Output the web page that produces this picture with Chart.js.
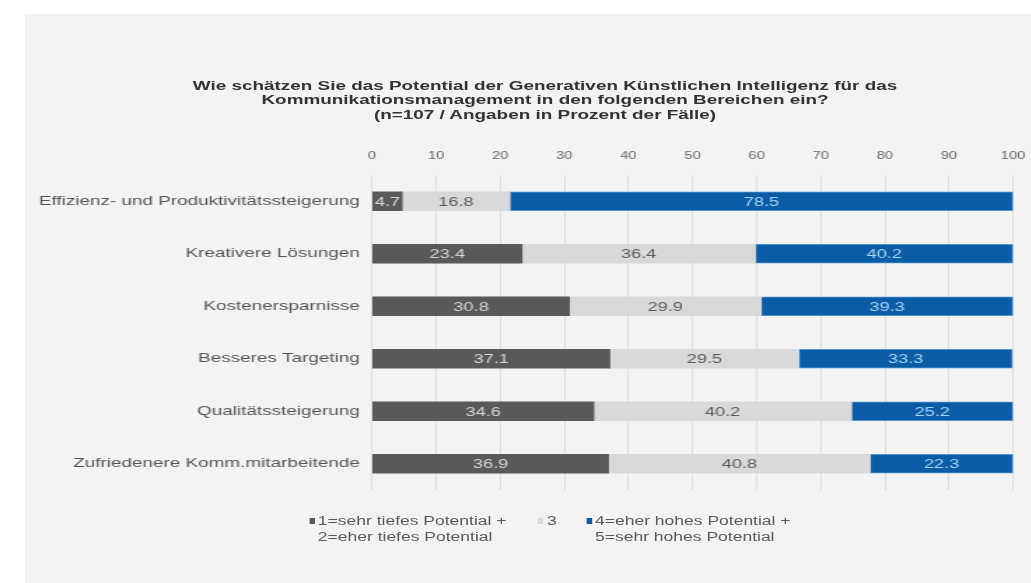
<!DOCTYPE html>
<html>
<head>
<meta charset="utf-8">
<script src="https://cdn.jsdelivr.net/npm/chart.js@4/dist/chart.umd.min.js"></script>
<style>
    body { margin: 0; background: #ffffff; font-family: "Liberation Sans", Arial, sans-serif; overflow: hidden; }
    #panel { position: absolute; left: 25px; top: 14px; right: 0; bottom: 0; background: #f3f3f3; }
    /* the original graphic is stretched horizontally */
    #stretch { position: absolute; left: 0; top: 0; width: 736px; height: 583px; transform: scaleX(1.4); transform-origin: 0 0; }
    #wrap { position: absolute; left: 0; top: 0; width: 736px; height: 583px; }
    #title { position: absolute; left: 89.3px; top: 78.8px; width: 600px; text-align: center; font-weight: bold; font-size: 13.5px; line-height: 14.4px; color: #333333; }
    .legend { position: absolute; font-size: 12.5px; color: #5a5a5a; line-height: 16px; }
    .legend i { position: absolute; left: -6.5px; top: 5px; width: 4.3px; height: 6px; }
</style>
</head>
<body>
<div id="panel"></div>
<div id="stretch">
    <div id="wrap"><canvas id="potChart"></canvas></div>
    <div id="title"></div>
    <div class="legend" style="left:227px; top:513px;"><i style="background:#595959"></i>1=sehr tiefes Potential +<br>2=eher tiefes Potential</div>
    <div class="legend" style="left:390.7px; top:513px;"><i style="background:#d9d9d9"></i>3</div>
    <div class="legend" style="left:425px; top:513px;"><i style="background:#0b5ca6"></i>4=eher hohes Potential +<br>5=sehr hohes Potential</div>
</div>
<script>
    // Kategorien (y-Achse)
    var categories = [
        "Effizienz- und Produktivitätssteigerung",
        "Kreativere Lösungen",
        "Kostenersparnisse",
        "Besseres Targeting",
        "Qualitätssteigerung",
        "Zufriedenere Komm.mitarbeitende"
    ];
    var seriesNames = ["1=sehr tiefes Potential + 2=eher tiefes Potential", "3", "4=eher hohes Potential + 5=sehr hohes Potential"];
    var tiefValues = [4.7, 23.4, 30.8, 37.1, 34.6, 36.9];
    var mittelValues = [16.8, 36.4, 29.9, 29.5, 40.2, 40.8];
    var hochValues = [78.5, 40.2, 39.3, 33.3, 25.2, 22.3];
    var xTicks = [0, 10, 20, 30, 40, 50, 60, 70, 80, 90, 100];
    var titleLines = [
        "Wie schätzen Sie das Potential der Generativen Künstlichen Intelligenz für das",
        "Kommunikationsmanagement in den folgenden Bereichen ein?",
        "(n=107 / Angaben in Prozent der Fälle)"
    ];

    document.getElementById("title").innerHTML = titleLines.join("<br>");

    var labelColors = ["#d6d6d6", "#5a5a5a", "#a8d4f7"];

    // Werte mittig in die Balken schreiben
    var barLabels = {
        id: "barLabels",
        afterDatasetsDraw: function (chart) {
            var ctx = chart.ctx;
            ctx.save();
            ctx.font = "13px 'Liberation Sans', Arial, sans-serif";
            ctx.textAlign = "center";
            ctx.textBaseline = "middle";
            chart.data.datasets.forEach(function (ds, i) {
                var meta = chart.getDatasetMeta(i);
                meta.data.forEach(function (bar, j) {
                    ctx.fillStyle = labelColors[i];
                    ctx.fillText(ds.data[j].toFixed(1), (bar.x + bar.base) / 2, bar.y + 1);
                });
            });
            ctx.restore();
        }
    };

    var ctx = document.getElementById("potChart").getContext("2d");
    new Chart(ctx, {
        type: "bar",
        data: {
            labels: categories,
            datasets: [
                { label: seriesNames[0], data: tiefValues, backgroundColor: "#595959" },
                { label: seriesNames[1], data: mittelValues, backgroundColor: "#d9d9d9" },
                { label: seriesNames[2], data: hochValues, backgroundColor: "#0b5ca6", borderColor: "#4f93d0", borderWidth: 1 }
            ]
        },
        options: {
            indexAxis: "y",
            responsive: true,
            maintainAspectRatio: false,
            animation: false,
            layout: { padding: { left: 0, top: 123, right: 12.4, bottom: 93 } },
            datasets: { bar: { barThickness: 19, borderSkipped: false } },
            plugins: {
                legend: { display: false },
                tooltip: { enabled: false }
            },
            scales: {
                x: {
                    position: "top",
                    stacked: true,
                    min: 0,
                    max: 100,
                    afterBuildTicks: function (scale) {
                        scale.ticks = xTicks.map(function (v) { return { value: v }; });
                    },
                    afterFit: function (scale) { scale.height = 52; },
                    grid: { color: "#dedede", drawTicks: true, tickLength: 13, tickColor: "rgba(0,0,0,0)" },
                    border: { display: false },
                    ticks: {
                        color: "#666666",
                        padding: 0,
                        font: { family: "'Liberation Sans', Arial, sans-serif", size: 10.5 }
                    }
                },
                y: {
                    stacked: true,
                    afterFit: function (scale) { scale.width = 265.7; },
                    grid: { display: false, drawTicks: false },
                    border: { display: false },
                    ticks: {
                        color: "#555555",
                        padding: 8.6,
                        font: { family: "'Liberation Sans', Arial, sans-serif", size: 13.5 }
                    }
                }
            }
        },
        plugins: [barLabels]
    });
</script>
</body>
</html>
